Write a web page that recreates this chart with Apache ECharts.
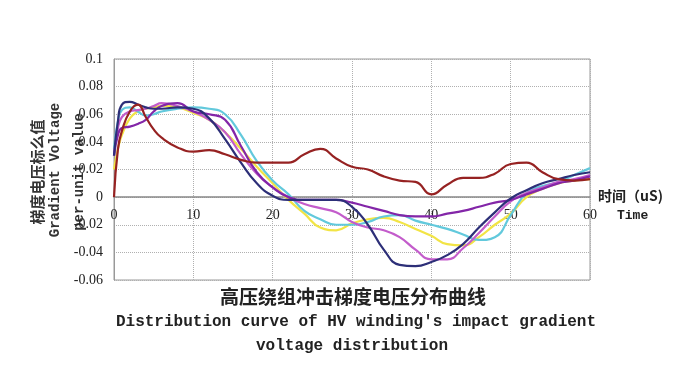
<!DOCTYPE html>
<html><head><meta charset="utf-8">
<script src="https://cdn.jsdelivr.net/npm/echarts@6/dist/echarts.min.js"></script>
<style>html,body{margin:0;padding:0;background:#fff}#c{width:696px;height:373px}</style>
</head><body><div id="c"></div>
<script>
const times = [0,0.5,1,2,3,4,5,6,8,10,12,14,16,18,20,22,24,26,28,30,32,34,36,38,40,42,44,46,48,50,52,54,56,58,60];
const navy = [0.03,0.055,0.067,0.069,0.067,0.065,0.064,0.064,0.065,0.064,0.057,0.042,0.025,0.010,0.001,-0.002,-0.002,-0.002,-0.002,-0.007,-0.020,-0.038,-0.049,-0.050,-0.047,-0.042,-0.034,-0.022,-0.011,-0.001,0.005,0.010,0.013,0.016,0.018];
const violet = [0.03,0.045,0.050,0.051,0.053,0.056,0.062,0.066,0.068,0.062,0.060,0.056,0.037,0.018,0.007,0.0,-0.002,-0.002,-0.002,-0.004,-0.007,-0.010,-0.013,-0.014,-0.014,-0.012,-0.010,-0.007,-0.004,-0.002,0.002,0.006,0.010,0.012,0.015];
const orchid = [0.03,0.05,0.058,0.062,0.063,0.064,0.066,0.068,0.066,0.062,0.056,0.047,0.031,0.017,0.007,0.0,-0.005,-0.008,-0.011,-0.018,-0.022,-0.024,-0.029,-0.038,-0.045,-0.045,-0.037,-0.026,-0.014,-0.003,0.003,0.007,0.011,0.013,0.016];
const cyan = [0.035,0.055,0.063,0.065,0.062,0.059,0.060,0.062,0.064,0.065,0.064,0.060,0.045,0.026,0.012,0.002,-0.010,-0.016,-0.020,-0.020,-0.018,-0.014,-0.013,-0.017,-0.020,-0.023,-0.027,-0.031,-0.029,-0.013,0.003,0.008,0.011,0.016,0.021];
const yellow = [0.02,0.035,0.045,0.057,0.062,0.064,0.065,0.066,0.065,0.061,0.056,0.047,0.035,0.022,0.010,-0.002,-0.012,-0.022,-0.024,-0.019,-0.016,-0.015,-0.018,-0.023,-0.028,-0.034,-0.035,-0.029,-0.020,-0.012,0.000,0.006,0.010,0.012,0.013];
const brown = [0,0.035,0.048,0.062,0.067,0.058,0.049,0.043,0.036,0.033,0.034,0.031,0.027,0.025,0.025,0.025,0.031,0.035,0.028,0.022,0.020,0.015,0.012,0.011,0.002,0.009,0.014,0.014,0.017,0.024,0.025,0.018,0.013,0.012,0.013];
const yTickLabels = {'0.1':'0.1','0.08':'0.08','0.06':'0.06','0.04':'0.04','0.02':'0.02','0':'0','-0.02':'-0.02','-0.04':'-0.04','-0.06':'-0.06'};

const seriesDefs = [
  {name:'s1', data:yellow, color:'#f2e445'},
  {name:'s2', data:cyan, color:'#62c9dc'},
  {name:'s3', data:orchid, color:'#c35ccb'},
  {name:'s4', data:violet, color:'#8326a8'},
  {name:'s5', data:navy, color:'#2d2f78'},
  {name:'s6', data:brown, color:'#962222'}
];

const chart = echarts.init(document.getElementById('c'), null, {renderer:'canvas'});
const yMin = -0.06, yMax = 0.1, gridTop = 59, gridBottom = 93, plotH = 373 - gridTop - gridBottom;
const zeroOffset = -Math.round(plotH * (0 - yMin) / (yMax - yMin));
chart.setOption({
  animation:false,
  backgroundColor:'#fff',
  grid:{left:114, right:106, top:gridTop, bottom:gridBottom, show:true, borderColor:'#9a9a9a', borderWidth:1},
  xAxis:{type:'value', min:0, max:60, interval:10, position:'bottom', offset:zeroOffset,
    axisLine:{onZero:false, lineStyle:{color:'#888', width:1.5}},
    axisTick:{show:false},
    axisLabel:{margin:11, fontSize:14, color:'#222', fontFamily:'Liberation Serif'},
    splitLine:{show:true, lineStyle:{type:'dotted', color:'#b0b0b0'}}
  },
  yAxis:{type:'value', min:yMin, max:yMax, interval:0.02,
    axisLine:{show:true, onZero:false, lineStyle:{color:'#999'}},
    axisTick:{show:false},
    axisLabel:{margin:11, fontSize:14, color:'#222', fontFamily:'Liberation Serif',
      formatter:v=>{const k=String(+v.toFixed(2)); return yTickLabels[k]!==undefined?yTickLabels[k]:k;}},
    splitLine:{show:true, lineStyle:{type:'dotted', color:'#b0b0b0'}}
  },
  series: seriesDefs.map(s=>({
    type:'line', name:s.name, smooth:0.5, showSymbol:false, symbol:'none',
    lineStyle:{color:s.color, width:2.2}, itemStyle:{color:s.color},
    data: times.map((t,i)=>[t, s.data[i]])
  })),
  graphic:[
    {type:'text', x:37, y:172, rotation:Math.PI/2, style:{text:'梯度电压标么值', font:'bold 15px "Noto Sans CJK SC"', fill:'#333', align:'center', verticalAlign:'middle'}},
    {type:'text', x:55, y:170, rotation:Math.PI/2, style:{text:'Gradient Voltage', font:'bold 14px "Liberation Mono"', fill:'#333', align:'center', verticalAlign:'middle'}},
    {type:'text', x:79, y:172, rotation:Math.PI/2, style:{text:'per-unit value', font:'bold 14px "Liberation Mono"', fill:'#333', align:'center', verticalAlign:'middle'}},
    {type:'text', x:598, y:196, style:{text:'时间（uS)', font:'bold 14px "Noto Sans CJK SC"', fill:'#222', align:'left', verticalAlign:'middle'}},
    {type:'text', x:617, y:216, style:{text:'Time', font:'bold 13px "Liberation Mono"', fill:'#222', align:'left', verticalAlign:'middle'}},
    {type:'text', x:353, y:297, style:{text:'高压绕组冲击梯度电压分布曲线', font:'bold 19px "Noto Sans CJK SC"', fill:'#222', align:'center', verticalAlign:'middle'}},
    {type:'text', x:356, y:322, style:{text:"Distribution curve of HV winding's impact gradient", font:'bold 16px "Liberation Mono"', fill:'#222', align:'center', verticalAlign:'middle'}},
    {type:'text', x:352, y:346, style:{text:'voltage distribution', font:'bold 16px "Liberation Mono"', fill:'#222', align:'center', verticalAlign:'middle'}}
  ]
});
</script></body></html>
